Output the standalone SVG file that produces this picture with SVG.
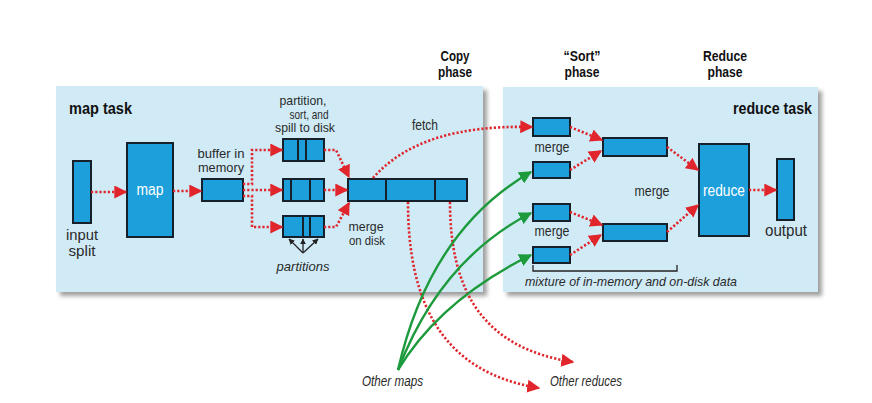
<svg xmlns="http://www.w3.org/2000/svg" width="872" height="403" viewBox="0 0 872 403">
  <defs>
    <filter id="sh" x="-5%" y="-5%" width="115%" height="120%">
      <feDropShadow dx="4" dy="4" stdDeviation="2" flood-color="#777" flood-opacity="0.7"/>
    </filter>
    <marker id="ar" viewBox="0 0 10 10" markerUnits="userSpaceOnUse" markerWidth="13" markerHeight="13" refX="9" refY="5" orient="auto">
      <path d="M0,0 L10,5 L0,10 z" fill="#e0262c"/>
    </marker>
    <marker id="ag" viewBox="0 0 10 10" markerUnits="userSpaceOnUse" markerWidth="13" markerHeight="13" refX="9" refY="5" orient="auto">
      <path d="M0,0 L10,5 L0,10 z" fill="#1c9a3c"/>
    </marker>
    <marker id="ab" viewBox="0 0 10 10" markerUnits="userSpaceOnUse" markerWidth="6" markerHeight="6" refX="9" refY="5" orient="auto">
      <path d="M0,0 L10,5 L0,10 z" fill="#222"/>
    </marker>
  </defs>
  <style>
    text { font-family: "Liberation Sans Narrow", "Liberation Sans", Arial, sans-serif; fill: #2a2a2a; }
    .b { font-weight: bold; fill: #111; }
    .i { font-style: italic; }
    .w { fill: #ffffff; }
    .panel { fill: #d0eaf6; filter: url(#sh); }
    .box { fill: #1d9fdb; stroke: #15202b; stroke-width: 2; }
    .div { stroke: #15202b; stroke-width: 2; }
    .red { fill: none; stroke: #e0262c; stroke-width: 2.6; stroke-dasharray: 2.2 2; marker-end: url(#ar); }
    .grn { fill: none; stroke: #1c9a3c; stroke-width: 2.4; marker-end: url(#ag); }
    .blk { fill: none; stroke: #222; stroke-width: 1.3; }
  </style>
  <rect width="872" height="403" fill="#ffffff"/>

  <g id="map-panel">
    <rect class="panel" x="56" y="86" width="427" height="206"/>
    <text class="b" x="69" y="114" font-size="16" textLength="63" lengthAdjust="spacingAndGlyphs">map task</text>
  </g>
  <g id="reduce-panel">
    <rect class="panel" x="503" y="87" width="315" height="205"/>
    <text class="b" x="733" y="114" font-size="16" textLength="79" lengthAdjust="spacingAndGlyphs">reduce task</text>
  </g>

  <g id="phase-labels">
    <text class="b" x="455" y="61" font-size="14" text-anchor="middle" textLength="29" lengthAdjust="spacingAndGlyphs">Copy</text>
    <text class="b" x="455" y="77" font-size="14" text-anchor="middle" textLength="34" lengthAdjust="spacingAndGlyphs">phase</text>
    <text class="b" x="582" y="61" font-size="14" text-anchor="middle" textLength="37" lengthAdjust="spacingAndGlyphs">“Sort”</text>
    <text class="b" x="582" y="77" font-size="14" text-anchor="middle" textLength="35" lengthAdjust="spacingAndGlyphs">phase</text>
    <text class="b" x="725" y="61" font-size="14" text-anchor="middle" textLength="44" lengthAdjust="spacingAndGlyphs">Reduce</text>
    <text class="b" x="725" y="77" font-size="14" text-anchor="middle" textLength="35" lengthAdjust="spacingAndGlyphs">phase</text>
  </g>

  <g id="input-split">
    <rect class="box" x="73" y="161" width="18" height="62"/>
    <text x="82" y="240" font-size="14.2" text-anchor="middle" textLength="32" lengthAdjust="spacingAndGlyphs">input</text>
    <text x="82" y="256" font-size="14.2" text-anchor="middle" textLength="27" lengthAdjust="spacingAndGlyphs">split</text>
  </g>
  <g id="map">
    <rect class="box" x="127" y="143" width="46" height="94"/>
    <text class="w" x="150" y="195" font-size="16" text-anchor="middle" textLength="27" lengthAdjust="spacingAndGlyphs">map</text>
  </g>
  <g id="buffer">
    <rect class="box" x="202" y="179" width="41" height="22"/>
    <text x="221" y="158" font-size="12.4" text-anchor="middle" textLength="47" lengthAdjust="spacingAndGlyphs">buffer in</text>
    <text x="221" y="172" font-size="12.4" text-anchor="middle" textLength="46" lengthAdjust="spacingAndGlyphs">memory</text>
  </g>
  <g id="spills">
    <text x="303" y="105" font-size="11.9" text-anchor="middle" textLength="47" lengthAdjust="spacingAndGlyphs">partition,</text>
    <text x="309" y="118.5" font-size="11.9" text-anchor="middle" textLength="39" lengthAdjust="spacingAndGlyphs">sort, and</text>
    <text x="305" y="132" font-size="11.9" text-anchor="middle" textLength="60" lengthAdjust="spacingAndGlyphs">spill to disk</text>
    <rect class="box" x="283" y="139" width="41" height="22"/>
    <line class="div" x1="298" y1="139" x2="298" y2="161"/>
    <line class="div" x1="306" y1="139" x2="306" y2="161"/>
    <rect class="box" x="283" y="179" width="41" height="22"/>
    <line class="div" x1="291" y1="179" x2="291" y2="201"/>
    <line class="div" x1="310" y1="179" x2="310" y2="201"/>
    <rect class="box" x="283" y="216" width="41" height="21"/>
    <line class="div" x1="303" y1="216" x2="303" y2="237"/>
    <line class="div" x1="310" y1="216" x2="310" y2="237"/>
    <text class="i" x="303" y="271" font-size="13.5" text-anchor="middle" textLength="53" lengthAdjust="spacingAndGlyphs">partitions</text>
  </g>
  <g id="merge-on-disk">
    <rect class="box" x="348" y="179" width="119" height="22"/>
    <line class="div" x1="386" y1="179" x2="386" y2="201"/>
    <line class="div" x1="435" y1="179" x2="435" y2="201"/>
    <text x="366" y="231" font-size="12.4" text-anchor="middle" textLength="35" lengthAdjust="spacingAndGlyphs">merge</text>
    <text x="367" y="245" font-size="12.4" text-anchor="middle" textLength="36" lengthAdjust="spacingAndGlyphs">on disk</text>
  </g>
  <g id="fetch-label">
    <text x="425" y="130" font-size="15" text-anchor="middle" textLength="26" lengthAdjust="spacingAndGlyphs">fetch</text>
  </g>

  <g id="reduce-merges">
    <rect class="box" x="533" y="118" width="37" height="18"/>
    <rect class="box" x="533" y="162" width="37" height="16"/>
    <rect class="box" x="533" y="204" width="37" height="17"/>
    <rect class="box" x="533" y="247" width="37" height="16"/>
    <text x="552" y="152" font-size="15" text-anchor="middle" textLength="35" lengthAdjust="spacingAndGlyphs">merge</text>
    <text x="552" y="236" font-size="15" text-anchor="middle" textLength="35" lengthAdjust="spacingAndGlyphs">merge</text>
    <rect class="box" x="603" y="138" width="64" height="18"/>
    <rect class="box" x="603" y="224" width="64" height="17"/>
    <text x="652" y="196" font-size="15" text-anchor="middle" textLength="35" lengthAdjust="spacingAndGlyphs">merge</text>
    <path class="blk" d="M533,265 V271 H677 V265"/>
    <text class="i" x="525" y="286" font-size="13" textLength="212" lengthAdjust="spacingAndGlyphs">mixture of in-memory and on-disk data</text>
  </g>
  <g id="reduce">
    <rect class="box" x="699" y="144" width="50" height="92"/>
    <text class="w" x="724" y="196" font-size="16" text-anchor="middle" textLength="42" lengthAdjust="spacingAndGlyphs">reduce</text>
  </g>
  <g id="output">
    <rect class="box" x="777" y="159" width="17" height="61"/>
    <text x="786" y="236" font-size="16" text-anchor="middle" textLength="42" lengthAdjust="spacingAndGlyphs">output</text>
  </g>
  <g id="other-maps">
    <text class="i" x="362" y="386" font-size="15" textLength="61" lengthAdjust="spacingAndGlyphs">Other maps</text>
  </g>
  <g id="other-reduces">
    <text class="i" x="550" y="386" font-size="15" textLength="72" lengthAdjust="spacingAndGlyphs">Other reduces</text>
  </g>

  <g id="connectors">
    <path class="red" d="M91,192 H126"/>
    <path class="red" d="M173,191 H201"/>
    <path class="red" d="M243,184 H252 V150 H282"/>
    <path class="red" d="M243,190 H282"/>
    <path class="red" d="M243,196 H252 V227 H282"/>
    <path class="red" d="M324,150 H336 L349,177"/>
    <path class="red" d="M324,190 H347"/>
    <path class="red" d="M324,227 H336 L349,203"/>
    <path class="red" d="M373,178 Q420,124 532,127"/>
    <path class="red" d="M408,202 C408,300 440,372 539,388"/>
    <path class="red" d="M450,202 C450,290 482,348 573,362"/>
    <path class="red" d="M570,127 L602,140"/>
    <path class="red" d="M570,170 L601,151"/>
    <path class="red" d="M570,212 L602,225"/>
    <path class="red" d="M570,255 L601,235"/>
    <path class="red" d="M667,147 L698,170"/>
    <path class="red" d="M667,232 L698,205"/>
    <path class="red" d="M749,190 H776"/>
    <path class="grn" d="M398,370 Q430,230 531,172"/>
    <path class="grn" d="M398,370 Q440,260 531,213"/>
    <path class="grn" d="M398,370 Q440,300 531,255"/>
    <path class="blk" d="M303,253 L289,239" marker-end="url(#ab)"/>
    <path class="blk" d="M303,253 L303,239" marker-end="url(#ab)"/>
    <path class="blk" d="M303,253 L318,239" marker-end="url(#ab)"/>
  </g>
</svg>
